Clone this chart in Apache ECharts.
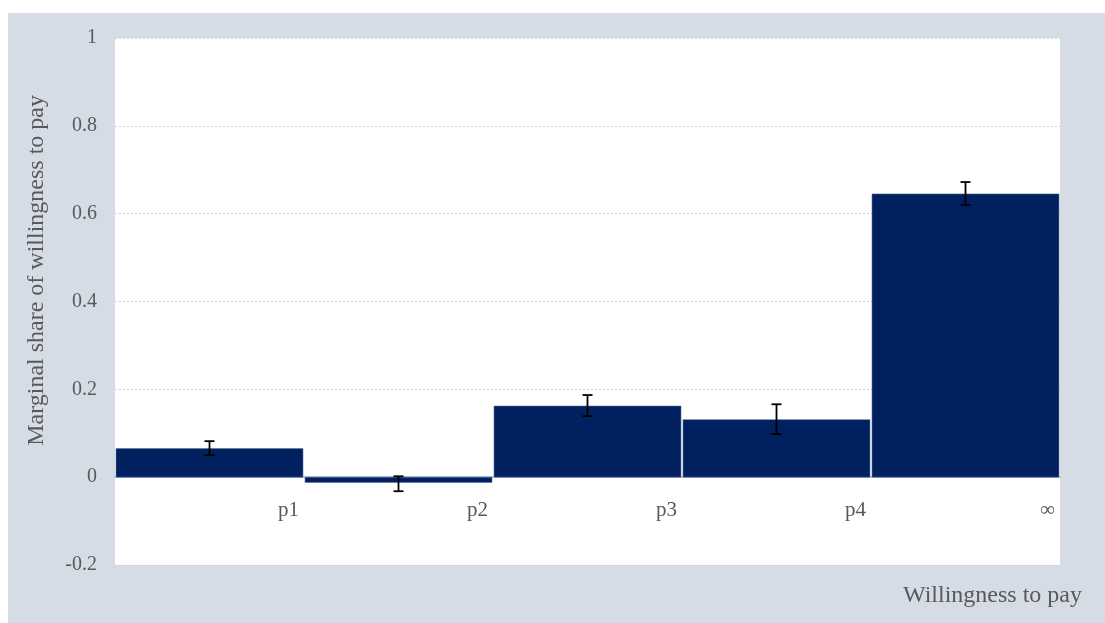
<!DOCTYPE html>
<html>
<head>
<meta charset="utf-8">
<script src="https://cdn.jsdelivr.net/npm/echarts@6/dist/echarts.min.js"></script>
<style>
  html, body { margin: 0; padding: 0; background: #ffffff; }
  #chart { width: 1105px; height: 623px; }
</style>
</head>
<body>
<div id="chart"></div>
<script>
// Willingness-to-pay bins and their marginal shares with error bounds
const binLabels = ['p1', 'p2', 'p3', 'p4', '\u221e'];
const shares    = [0.065, -0.012, 0.162, 0.131, 0.645];
const errLow    = [0.050, -0.032, 0.139, 0.098, 0.620];
const errHigh   = [0.082, 0.002, 0.187, 0.166, 0.672];
const yTicks    = [-0.2, 0, 0.2, 0.4, 0.6, 0.8, 1];

const serif = '"Liberation Serif", "DejaVu Serif", serif';
const navy = '#00205f';

const chart = echarts.init(document.getElementById('chart'));

// each bin spans [i, i+1] on the value x-axis, label sits at its right edge
const barData = shares.map((v, i) => [i, i + 1, v]);
const errData = shares.map((v, i) => [i + 0.5, errLow[i], errHigh[i]]);

chart.setOption({
  animation: false,
  graphic: [
    { type: 'rect', z: -10, shape: { x: 8, y: 13, width: 1097, height: 610 }, style: { fill: '#d5dce6' } },
    { type: 'rect', z: -9, shape: { x: 115, y: 38, width: 945, height: 527 }, style: { fill: '#ffffff' } },
    {
      type: 'text', left: 25, top: 95, rotation: Math.PI / 2,
      style: { text: 'Marginal share of willingness to pay', font: '24px ' + serif, fill: '#595959' }
    },
    {
      type: 'text', left: 903, top: 584,
      style: { text: 'Willingness to pay', font: '24px ' + serif, fill: '#595959' }
    }
  ],
  grid: { left: 115, right: 45, top: 38, bottom: 58, containLabel: false },
  xAxis: {
    type: 'value', min: 0, max: 5, interval: 1,
    position: 'bottom',
    offset: -88,
    axisLine: { onZero: false, lineStyle: { color: '#b4c7e7', width: 2 } },
    axisTick: { show: false },
    splitLine: { show: false },
    axisLabel: {
      showMinLabel: true, showMaxLabel: true,
      formatter: v => (v >= 1 && v <= 5 ? binLabels[v - 1] : ''),
      align: 'right', margin: 23,
      padding: [0, 5, 0, 0],
      fontFamily: serif, fontSize: 21, color: '#595959'
    }
  },
  yAxis: {
    type: 'value', min: yTicks[0], max: yTicks[yTicks.length - 1], interval: 0.2,
    axisLine: { show: false, onZero: false },
    axisTick: { show: false },
    splitLine: { show: true, lineStyle: { color: '#d0d0d0', type: [2, 2], width: 1 } },
    axisLabel: {
      formatter: v => String(Math.round(v * 10) / 10),
      margin: 18, fontFamily: serif, fontSize: 20, color: '#595959'
    }
  },
  series: [
    {
      type: 'custom',
      data: barData,
      z: 3,
      renderItem: (params, api) => {
        const p0 = api.coord([api.value(0), 0]);
        const p1 = api.coord([api.value(1), api.value(2)]);
        const x = Math.min(p0[0], p1[0]) + 1;
        const w = Math.abs(p1[0] - p0[0]) - 2;
        const y = Math.min(p0[1], p1[1]);
        const h = Math.abs(p1[1] - p0[1]);
        return {
          type: 'rect',
          shape: { x: x, y: y, width: w, height: h },
          style: { fill: navy, stroke: '#5a6e96', lineWidth: 0.6 }
        };
      }
    },
    {
      type: 'custom',
      data: errData,
      z: 5,
      renderItem: (params, api) => {
        const lo = api.coord([api.value(0), api.value(1)]);
        const hi = api.coord([api.value(0), api.value(2)]);
        const cap = 5;
        const st = { stroke: '#000000', lineWidth: 1.8 };
        return {
          type: 'group',
          children: [
            { type: 'line', shape: { x1: lo[0], y1: lo[1], x2: hi[0], y2: hi[1] }, style: st },
            { type: 'line', shape: { x1: lo[0] - cap, y1: lo[1], x2: lo[0] + cap, y2: lo[1] }, style: st },
            { type: 'line', shape: { x1: hi[0] - cap, y1: hi[1], x2: hi[0] + cap, y2: hi[1] }, style: st }
          ]
        };
      }
    }
  ]
});
</script>
</body>
</html>
